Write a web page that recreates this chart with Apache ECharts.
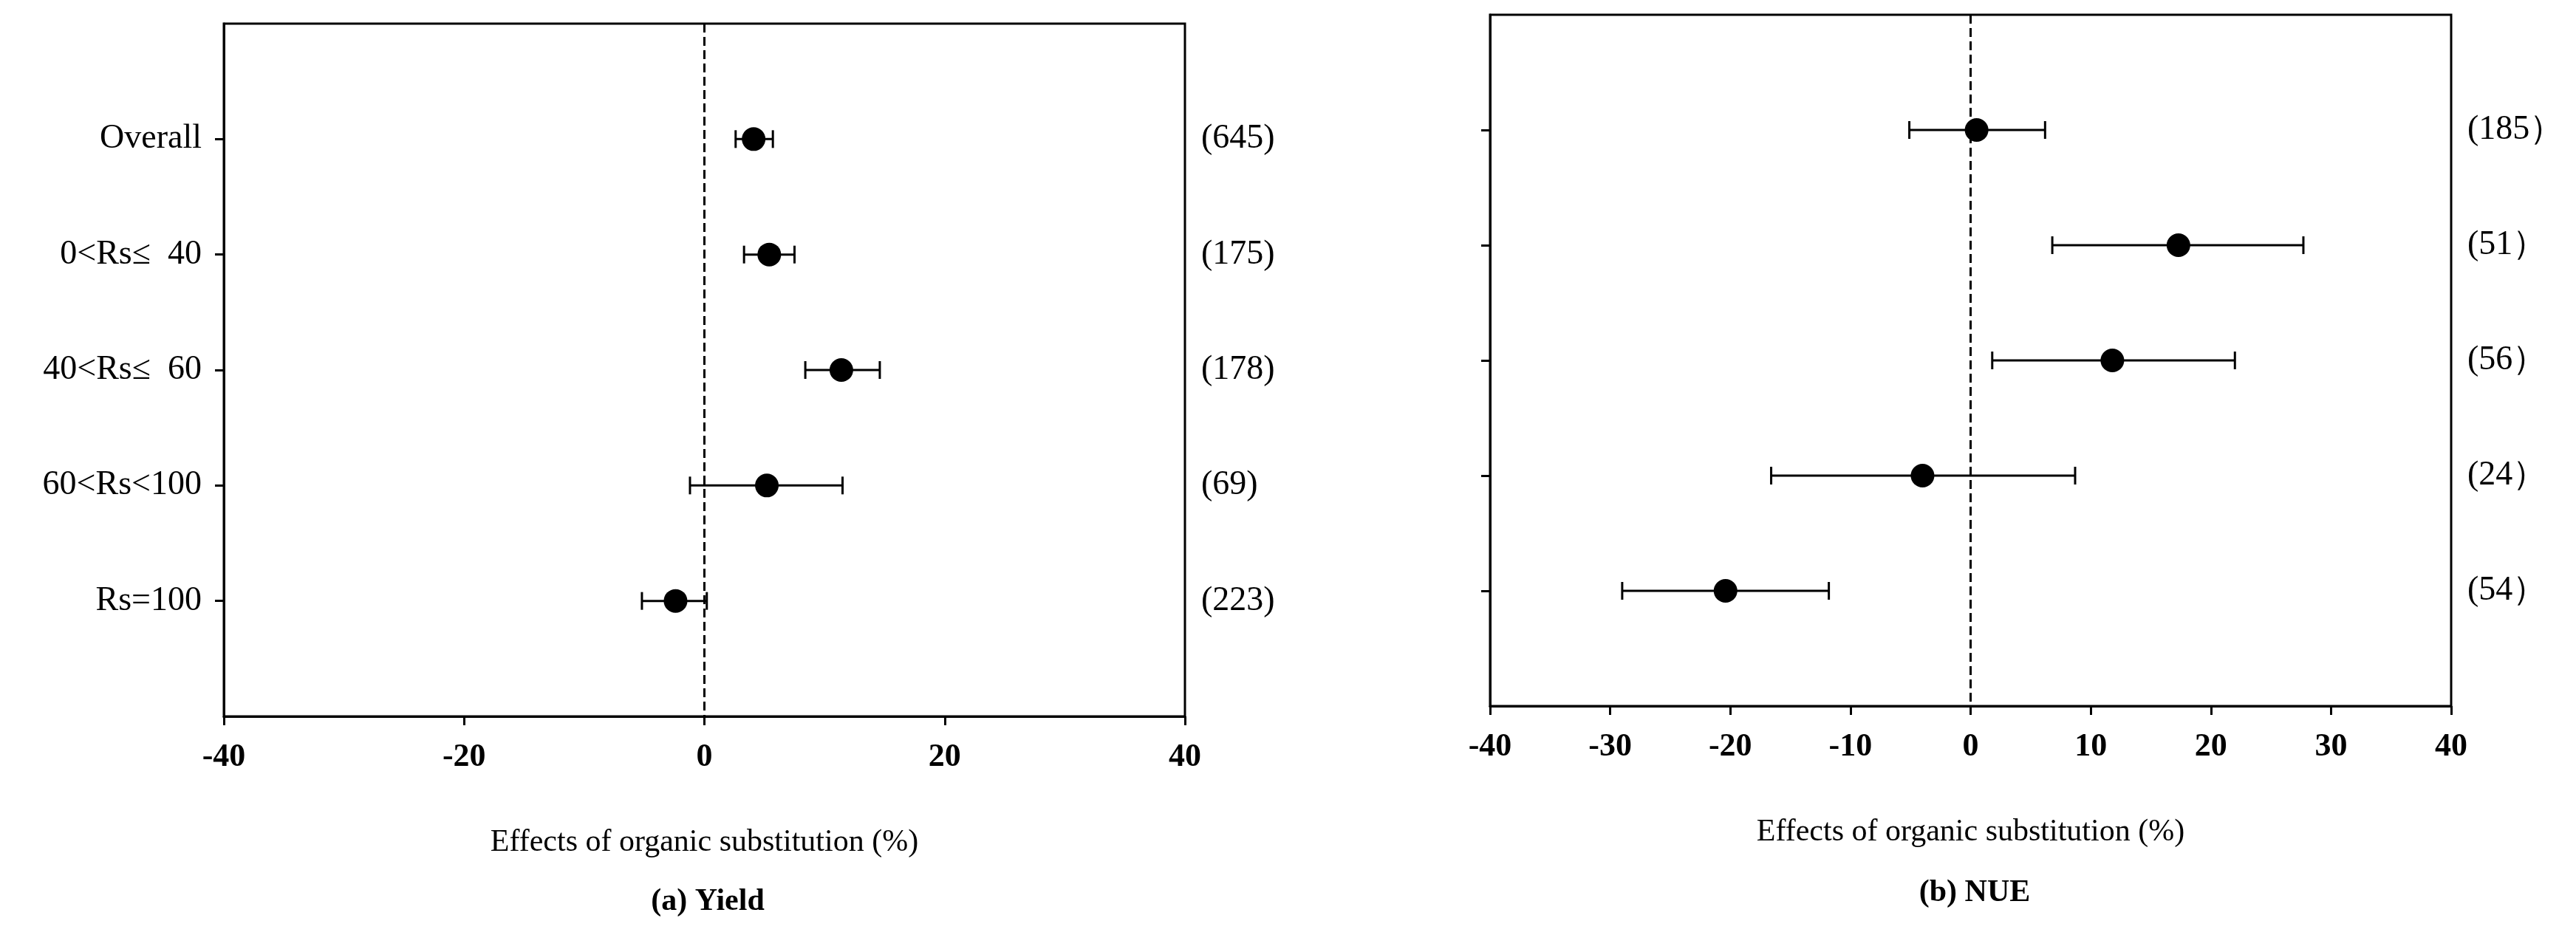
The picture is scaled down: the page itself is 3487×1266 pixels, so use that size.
<!DOCTYPE html>
<html lang="en">
<head>
    <meta charset="UTF-8">
    <title>Effects of organic substitution</title>
    <script src="https://cdn.jsdelivr.net/npm/echarts@6/dist/echarts.min.js"></script>
    <style>html,body{margin:0;background:#fff}</style>
</head>
<body>
<div id="main" style="width:3487px;height:1266px;"></div>
<script>
    // 数据
    var groups = ['Overall', '0<Rs\u2264  40', '40<Rs\u2264  60', '60<Rs<100', 'Rs=100'];
    var yieldMean = [4.1, 5.4, 11.4, 5.2, -2.4];
    var yieldLow = [2.6, 3.3, 8.4, -1.2, -5.2];
    var yieldHigh = [5.7, 7.5, 14.6, 11.5, 0.2];
    var yieldN = ['(645)', '(175)', '(178)', '(69)', '(223)'];
    var nueMean = [0.5, 17.3, 11.8, -4.0, -20.4];
    var nueLow = [-5.1, 6.8, 1.8, -16.6, -29.0];
    var nueHigh = [6.2, 27.7, 22.0, 8.7, -11.8];
    var nueN = ['(185\uFF09', '(51\uFF09', '(56\uFF09', '(24\uFF09', '(54\uFF09'];

    var serif = '"Liberation Serif", "DejaVu Serif", serif';
    var rows = [1, 2, 3, 4, 5];

    function pts(mean) {
        return mean.map(function (v, i) { return [v, i + 1]; });
    }
    function bars(lo, hi) {
        return lo.map(function (v, i) { return [v, hi[i], i + 1]; });
    }
    function errBar(params, api) {
        var a = api.coord([api.value(0), api.value(2)]);
        var b = api.coord([api.value(1), api.value(2)]);
        var c = 12;
        var st = {stroke: '#000', lineWidth: 3};
        return {
            type: 'group', children: [
                {type: 'line', shape: {x1: a[0], y1: a[1], x2: b[0], y2: b[1]}, style: st},
                {type: 'line', shape: {x1: a[0], y1: a[1] - c, x2: a[0], y2: a[1] + c}, style: st},
                {type: 'line', shape: {x1: b[0], y1: b[1] - c, x2: b[0], y2: b[1] + c}, style: st}
            ]
        };
    }
    function xAx(idx, interval) {
        return {
            type: 'value', gridIndex: idx, min: -40, max: 40, interval: interval,
            name: 'Effects of organic substitution (%)', nameLocation: 'middle', nameGap: 150,
            nameTextStyle: {fontFamily: serif, fontSize: 42, color: '#000'},
            axisLine: {onZero: false, lineStyle: {color: '#000', width: 3}},
            axisTick: {length: 12, lineStyle: {color: '#000', width: 3}},
            axisLabel: {fontFamily: serif, fontSize: 44, fontWeight: 'bold', color: '#000', margin: 34},
            splitLine: {show: false}
        };
    }
    function yAx(idx, labels, pos) {
        return {
            type: 'value', gridIndex: idx, min: 0, max: 6, interval: 1, inverse: true, position: pos,
            axisLine: {show: pos === 'left', onZero: false, lineStyle: {color: '#000', width: 3}},
            axisTick: {show: pos === 'left', customValues: rows, length: 12, lineStyle: {color: '#000', width: 3}},
            axisLabel: {
                show: labels !== null, customValues: rows, fontFamily: serif, fontSize: 46, color: '#000',
                margin: pos === 'left' ? 30 : 22,
                align: pos === 'left' ? 'right' : 'left',
                formatter: function (v) { return labels ? (labels[v - 1] || '') : ''; }
            },
            splitLine: {show: false}
        };
    }
    var zeroLine = {
        silent: true, symbol: 'none', label: {show: false},
        lineStyle: {color: '#000', type: 'dashed', width: 3, dashOffset: 0},
        data: [{xAxis: 0}]
    };

    var chart = echarts.init(document.getElementById('main'));
    chart.setOption({
        backgroundColor: '#fff',
        animation: false,
        title: [
            {text: '(a) Yield', left: 953, top: 1195, textAlign: 'center',
                textStyle: {fontFamily: serif, fontSize: 42, fontWeight: 'bold', color: '#000'}},
            {text: '(b) NUE', left: 2668, top: 1183, textAlign: 'center',
                textStyle: {fontFamily: serif, fontSize: 42, fontWeight: 'bold', color: '#000'}}
        ],
        grid: [
            {left: 303, right: 1883, top: 32, height: 938, show: true, borderColor: '#000', borderWidth: 3},
            {left: 2017, right: 169, top: 20, height: 936, show: true, borderColor: '#000', borderWidth: 3}
        ],
        xAxis: [xAx(0, 20), xAx(1, 10)],
        yAxis: [
            yAx(0, groups, 'left'), yAx(0, yieldN, 'right'),
            yAx(1, null, 'left'), yAx(1, nueN, 'right')
        ],
        series: [
            {type: 'custom', xAxisIndex: 0, yAxisIndex: 0, renderItem: errBar,
                encode: {x: [0, 1], y: 2}, data: bars(yieldLow, yieldHigh), z: 2},
            {type: 'scatter', xAxisIndex: 0, yAxisIndex: 0, symbolSize: 32,
                itemStyle: {color: '#000', opacity: 1}, data: pts(yieldMean), markLine: zeroLine, z: 3},
            {type: 'custom', xAxisIndex: 1, yAxisIndex: 2, renderItem: errBar,
                encode: {x: [0, 1], y: 2}, data: bars(nueLow, nueHigh), z: 2},
            {type: 'scatter', xAxisIndex: 1, yAxisIndex: 2, symbolSize: 32,
                itemStyle: {color: '#000', opacity: 1}, data: pts(nueMean), markLine: zeroLine, z: 3}
        ]
    });
</script>
</body>
</html>
